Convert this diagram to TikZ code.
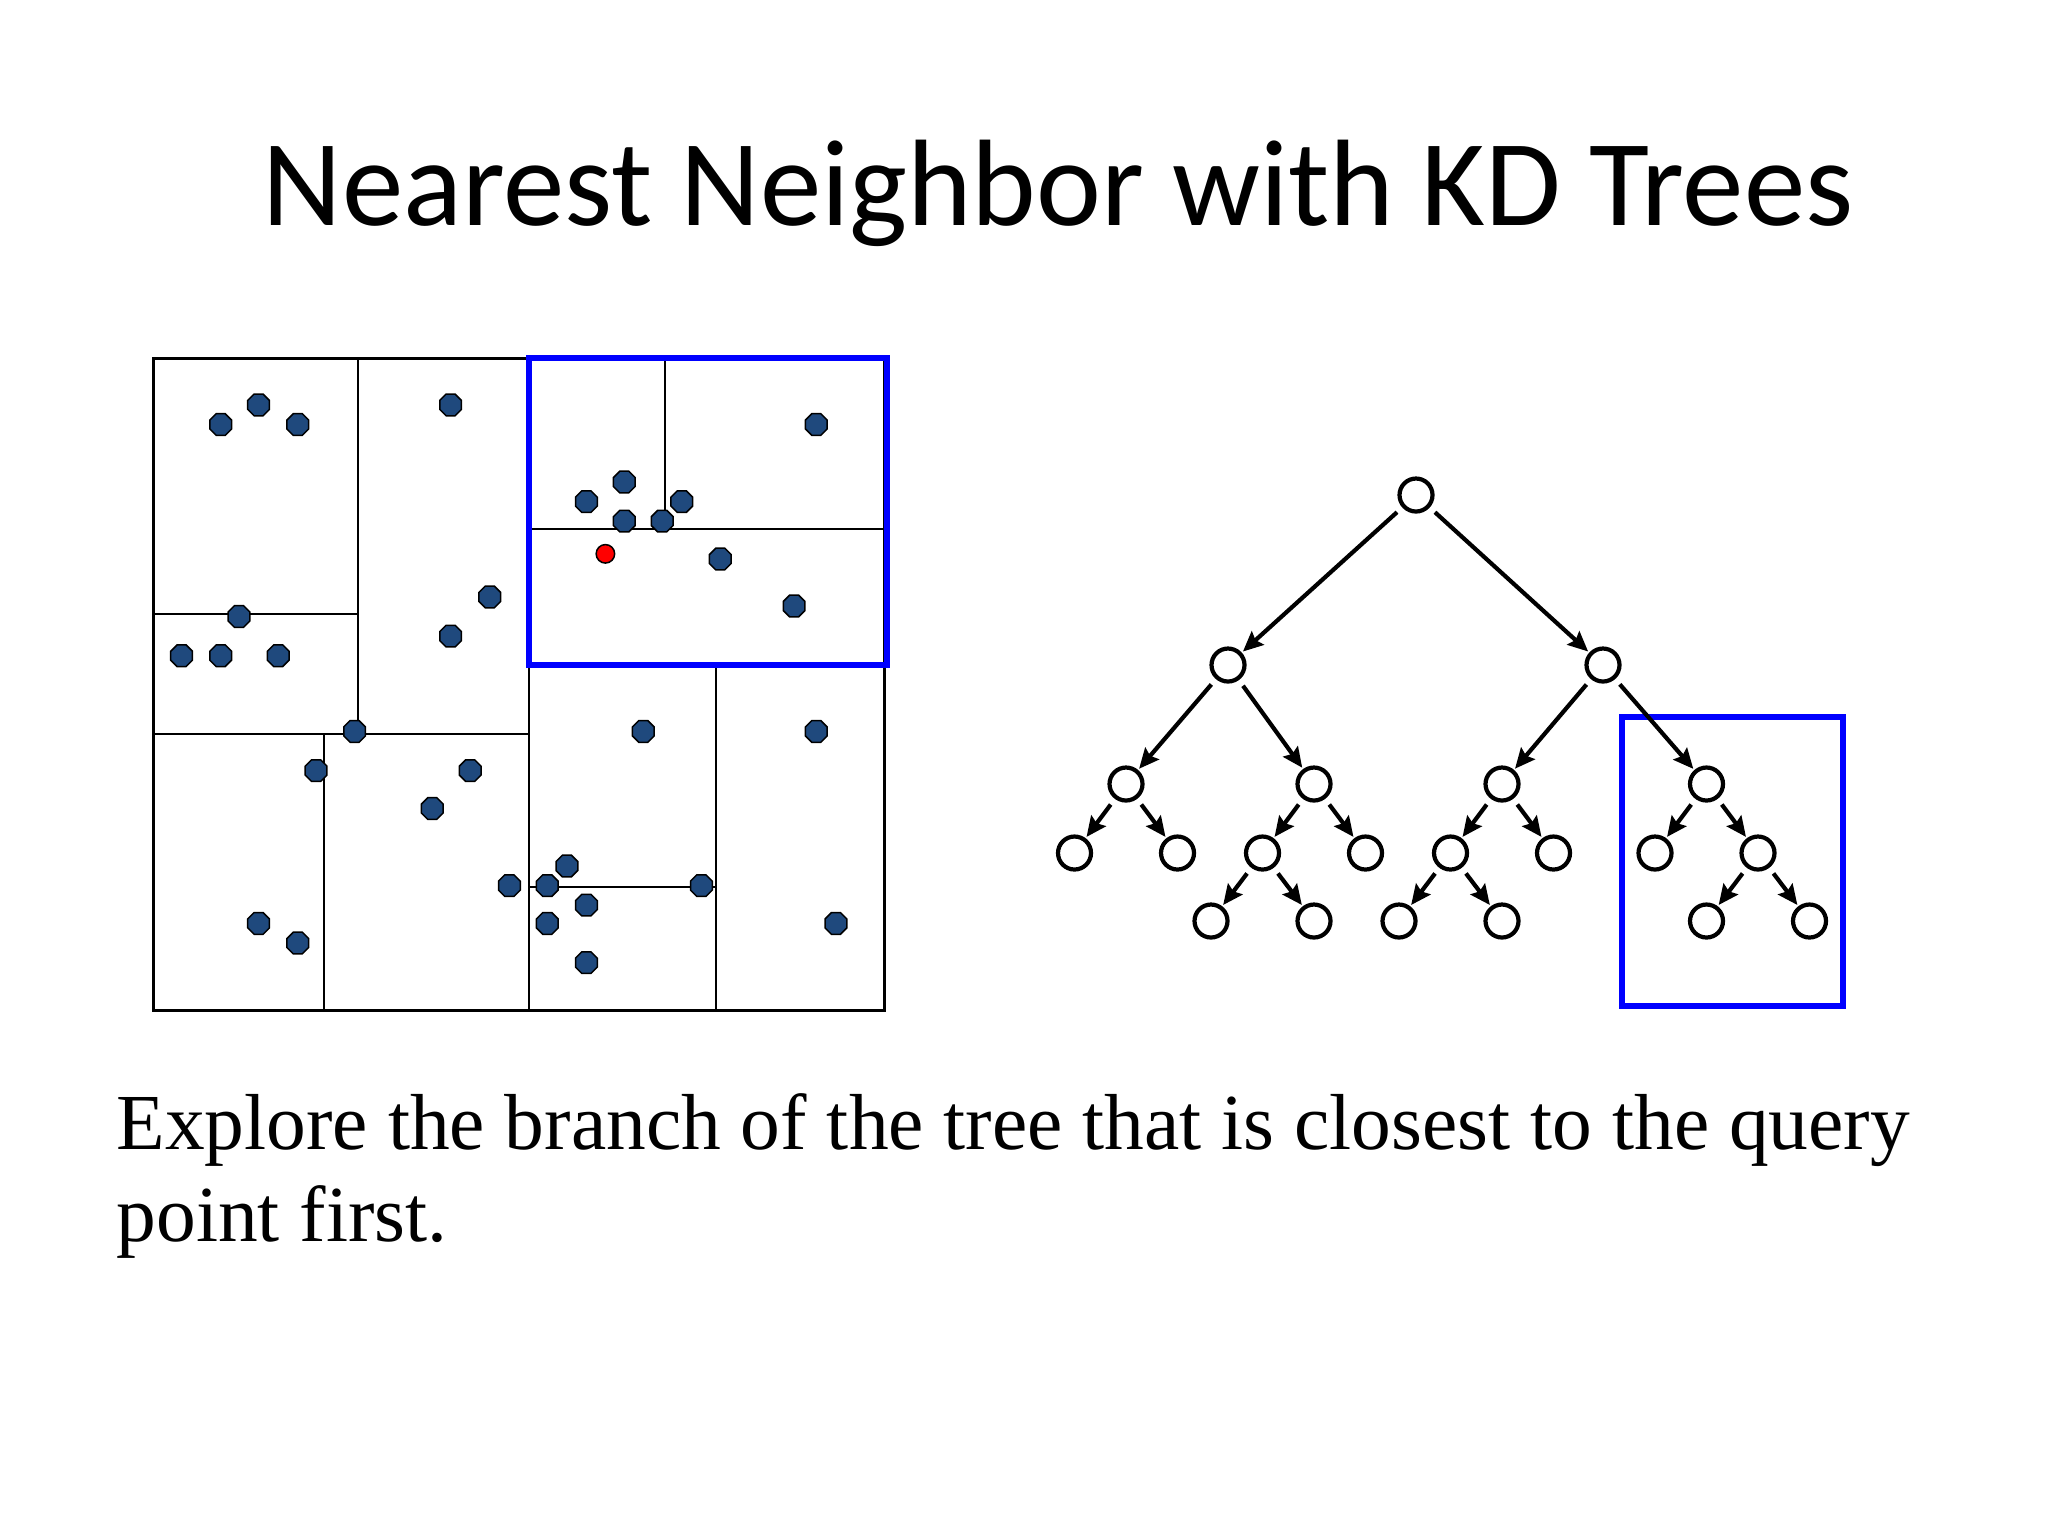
\documentclass[tikz,border=0pt]{standalone}
\usepackage{fontspec}
\setmainfont{Liberation Serif}
\newfontfamily\titlefont{Carlito}
\usetikzlibrary{shapes.geometric,arrows.meta}
\definecolor{dotblue}{RGB}{31,73,125}
\definecolor{hiblue}{RGB}{0,0,255}
\tikzset{
  pt/.style={regular polygon, regular polygon sides=8, draw=black, fill=dotblue, line width=0.15mm, minimum size=2.35mm, inner sep=0pt},
  qpt/.style={circle, draw=black, fill=red, line width=0.15mm, minimum size=1.85mm, inner sep=0pt},
  grid/.style={line width=0.25mm, black},
  hibox/.style={draw=hiblue, line width=0.6mm},
  tn/.style={circle, draw=black, line width=0.42mm, minimum size=3.3mm, inner sep=0pt, fill=white},
  edge/.style={line width=0.42mm, -{Stealth[length=2mm, width=1.8mm, inset=0.3mm]}, shorten <=0.7mm, shorten >=0.15mm}
}
\begin{document}
\begin{tikzpicture}[x=0.1mm, y=-0.1mm]
\useasboundingbox (0,0) rectangle (2048,1536);
\fill[white] (0,0) rectangle (2048,1536);

% title
\node[anchor=base west, inner sep=0pt] (title) at (262,225) {\titlefont\fontsize{35}{40}\selectfont Nearest Neighbor with KD Trees};

% kd partition
\draw[grid, line width=0.3mm] (153,358) rectangle (884,1010);
\draw[grid] (358,358) -- (358,734);
\draw[grid] (153,614) -- (358,614);
\draw[grid] (153,734) -- (529,734);
\draw[grid] (324,734) -- (324,1010);
\draw[grid] (529,358) -- (529,1010);
\draw[grid] (529,529) -- (884,529);
\draw[grid] (665,358) -- (665,529);
\draw[grid] (529,665) -- (884,665);
\draw[grid] (716,665) -- (716,1010);
\draw[grid] (529,887) -- (716,887);
\draw[hibox] (529,358) rectangle (887,665);

% points
\node[pt] (p1) at (220.7,424.5) {};
\node[pt] (p2) at (258.6,404.9) {};
\node[pt] (p3) at (297.8,424.5) {};
\node[pt] (p4) at (450.6,404.9) {};
\node[pt] (p5) at (816.3,424.5) {};
\node[pt] (p6) at (624.3,482.0) {};
\node[pt] (p7) at (586.4,501.6) {};
\node[pt] (p8) at (681.8,501.6) {};
\node[pt] (p9) at (624.3,521.1) {};
\node[pt] (p10) at (662.2,521.1) {};
\node[qpt] (q) at (605.4,553.8) {};
\node[pt] (p12) at (720.3,559.0) {};
\node[pt] (p13) at (794.1,606.0) {};
\node[pt] (p14) at (489.8,596.9) {};
\node[pt] (p15) at (239.0,616.5) {};
\node[pt] (p16) at (450.6,636.1) {};
\node[pt] (p17) at (181.6,655.7) {};
\node[pt] (p18) at (220.7,655.7) {};
\node[pt] (p19) at (278.2,655.7) {};
\node[pt] (p20) at (354.6,731.4) {};
\node[pt] (p21) at (643.3,731.4) {};
\node[pt] (p22) at (816.3,731.4) {};
\node[pt] (p23) at (316.1,770.6) {};
\node[pt] (p24) at (470.2,770.6) {};
\node[pt] (p25) at (432.3,808.5) {};
\node[pt] (p26) at (566.9,866.0) {};
\node[pt] (p27) at (509.4,885.6) {};
\node[pt] (p28) at (547.3,885.6) {};
\node[pt] (p29) at (701.4,885.6) {};
\node[pt] (p30) at (586.4,905.1) {};
\node[pt] (p31) at (547.3,923.4) {};
\node[pt] (p32) at (835.9,923.4) {};
\node[pt] (p33) at (258.6,923.4) {};
\node[pt] (p34) at (297.8,943.0) {};
\node[pt] (p35) at (586.4,962.6) {};

% tree highlight box
\draw[hibox] (1621.7,716.7) rectangle (1842.7,1005.7);

% tree nodes
\node[tn] (r) at (1416,495) {};
\node[tn] (a) at (1228,665) {};
\node[tn] (b) at (1603,665) {};
\node[tn] (aa) at (1126,784) {};
\node[tn] (ab) at (1314,784) {};
\node[tn] (ba) at (1502,784) {};
\node[tn] (bb) at (1706.5,784) {};
\node[tn] (aaa) at (1074.5,853) {};
\node[tn] (aab) at (1177.5,853) {};
\node[tn] (aba) at (1262.5,853) {};
\node[tn] (abb) at (1365.5,853) {};
\node[tn] (baa) at (1450.5,853) {};
\node[tn] (bab) at (1553.5,853) {};
\node[tn] (bba) at (1655,853) {};
\node[tn] (bbb) at (1758,853) {};
\node[tn] (abaa) at (1211,921) {};
\node[tn] (abab) at (1314,921) {};
\node[tn] (baaa) at (1399,921) {};
\node[tn] (baab) at (1502,921) {};
\node[tn] (bbba) at (1706.5,921) {};
\node[tn] (bbbb) at (1809.5,921) {};

% tree edges
\draw[edge] (r) -- (a);
\draw[edge] (r) -- (b);
\draw[edge] (a) -- (aa);
\draw[edge] (a) -- (ab);
\draw[edge] (b) -- (ba);
\draw[edge] (b) -- (bb);
\draw[edge] (aa) -- (aaa);
\draw[edge] (aa) -- (aab);
\draw[edge] (ab) -- (aba);
\draw[edge] (ab) -- (abb);
\draw[edge] (ba) -- (baa);
\draw[edge] (ba) -- (bab);
\draw[edge] (bb) -- (bba);
\draw[edge] (bb) -- (bbb);
\draw[edge] (aba) -- (abaa);
\draw[edge] (aba) -- (abab);
\draw[edge] (baa) -- (baaa);
\draw[edge] (baa) -- (baab);
\draw[edge] (bbb) -- (bbba);
\draw[edge] (bbb) -- (bbbb);

% caption
\node[anchor=base west, inner sep=0pt] (l1) at (116,1149) {\fontsize{22.6}{26}\selectfont Explore the branch of the tree that is closest to the query};
\node[anchor=base west, inner sep=0pt] (l2) at (116,1241) {\fontsize{22.6}{26}\selectfont point first.};
\end{tikzpicture}
\end{document}
